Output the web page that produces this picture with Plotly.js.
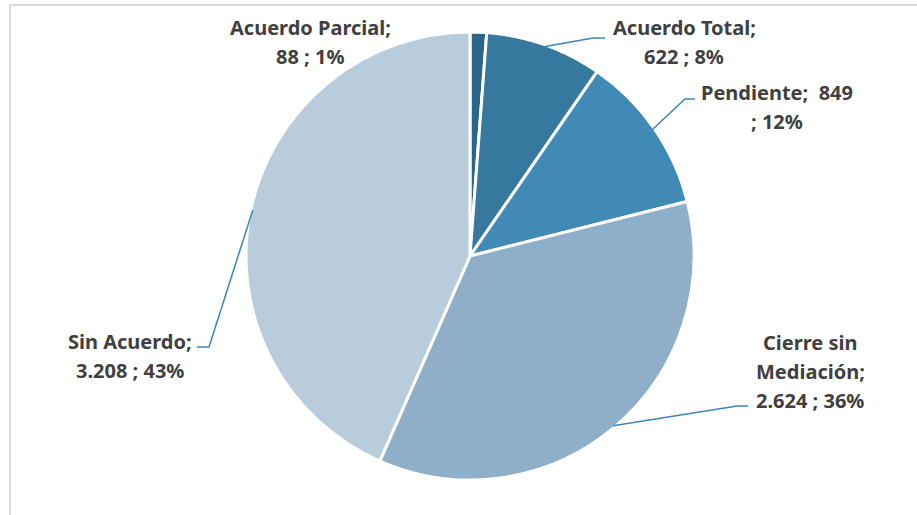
<!DOCTYPE html>
<html>
<head>
<meta charset="utf-8">
<script src="https://cdn.plot.ly/plotly-3.0.1.min.js"></script>
<style>html,body{margin:0;padding:0;background:#fff;}#chart{width:917px;height:515px;}</style>
</head>
<body>
<div id="chart"></div>
<script>
// ---- data ----
const categories = ["Acuerdo Parcial", "Acuerdo Total", "Pendiente", "Cierre sin Mediación", "Sin Acuerdo"];
const values = [88, 622, 849, 2624, 3208];
const percents = [1, 8, 12, 36, 43];
const valueLabels = ["88", "622", "849", "2.624", "3.208"];

// ---- style ----
const colors = ["#2b6588", "#37799e", "#408bb5", "#8faec8", "#b9ccdb"];
const W = 917, H = 515;
const cx = 470, cy = 256, R = 222;
// label lines template per category
const labelTemplates = [
  ["{n};", "{v} ; {p}%"],
  ["{n};", "{v} ; {p}%"],
  ["{n};  {v}", "; {p}%"],
  ["Cierre sin", "Mediación;", "{v} ; {p}%"],
  ["{n};", "{v} ; {p}%"]
];
const labelPos = [ // center x, y of first line
  {x: 310, y: 27}, {x: 684, y: 27}, {x: 777, y: 93}, {x: 810, y: 342}, {x: 130, y: 341}
];
const lineStep = 29;
const leader = [ // elbow and end points in px (null = no leader)
  null,
  {ex: 593, ey: 38, tx: 605, ty: 38},
  {ex: 685, ey: 99, tx: 695, ty: 99},
  {ex: 737, ey: 406, tx: 748, ty: 406},
  {ex: 209, ey: 347, tx: 197, ty: 347}
];

const px = x => x / W;
const py = y => 1 - y / H;

const total = values.reduce((a, b) => a + b, 0);
const annotations = [];
const shapes = [];
let cum = 0;
values.forEach((v, i) => {
  const mid = (cum + v / 2) / total * 2 * Math.PI;
  cum += v;
  const ax = cx + R * Math.sin(mid), ay = cy - R * Math.cos(mid);
  labelTemplates[i].forEach((t, k) => {
    const txt = t.replace("{n}", categories[i]).replace("{v}", valueLabels[i]).replace("{p}", percents[i]);
    annotations.push({
      xref: "paper", yref: "paper", x: px(labelPos[i].x), y: py(labelPos[i].y + k * lineStep),
      xanchor: "center", yanchor: "middle", showarrow: false,
      text: txt,
      font: {family: "Noto Sans, sans-serif", size: 20, color: "#404040", weight: "bold"}
    });
  });
  const L = leader[i];
  if (L) {
    shapes.push({type: "path", xref: "paper", yref: "paper",
      path: "M" + px(ax) + "," + py(ay) + " L" + px(L.ex) + "," + py(L.ey) + " L" + px(L.tx) + "," + py(L.ty),
      line: {color: "#3a87b6", width: 1.5}});
  }
});
// frame lines
shapes.push({type: "line", xref: "paper", yref: "paper", x0: px(9), x1: px(917), y0: py(5), y1: py(5), line: {color: "#d9d9d9", width: 2}});
shapes.push({type: "line", xref: "paper", yref: "paper", x0: px(10), x1: px(10), y0: py(5), y1: py(515), line: {color: "#d9d9d9", width: 2}});

const Rd = R + 2;
const trace = {
  type: "pie",
  labels: categories,
  values: values,
  sort: false,
  direction: "clockwise",
  rotation: 0,
  textinfo: "none",
  hoverinfo: "label+value+percent",
  marker: {colors: colors, line: {color: "#ffffff", width: 3}},
  domain: {x: [px(cx - Rd), px(cx + Rd)], y: [py(cy + Rd), py(cy - Rd)]},
  showlegend: false
};

Plotly.newPlot("chart", [trace], {
  width: W, height: H,
  margin: {l: 0, r: 0, t: 0, b: 0},
  paper_bgcolor: "#ffffff",
  showlegend: false,
  annotations: annotations,
  shapes: shapes
}, {displayModeBar: false, staticPlot: true});
</script>
</body>
</html>
